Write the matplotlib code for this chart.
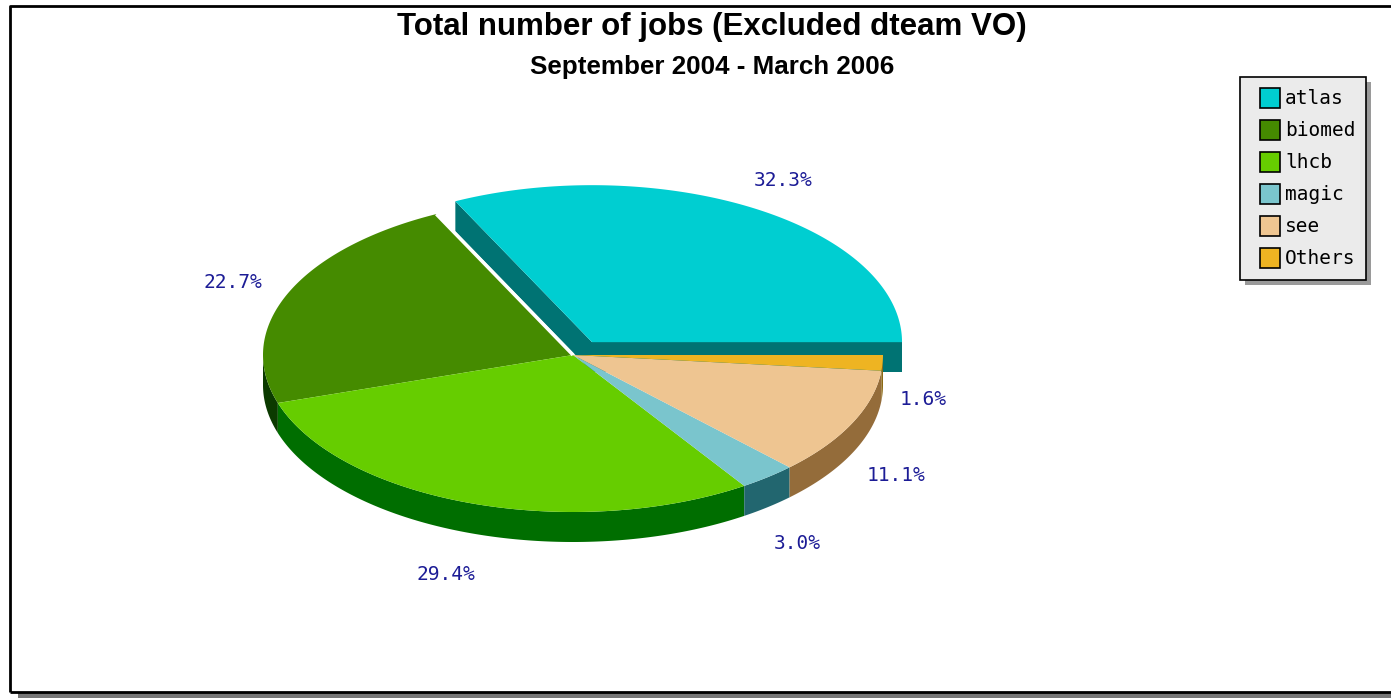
import numpy as np
import matplotlib
matplotlib.use("Agg")
import matplotlib.pyplot as plt
from matplotlib.patches import Polygon, Rectangle

# ---------------- data ----------------
categories = ["atlas", "biomed", "lhcb", "magic", "see", "Others"]
percentages = [32.3, 22.7, 29.4, 3.0, 11.1, 1.6]
top_colors = ["#00CED1", "#458B00", "#66CD00", "#7AC5CD", "#EEC591", "#EEB422"]
side_colors = ["#007373", "#0B3A00", "#006E00", "#22666F", "#946C3A", "#8B6914"]
exploded = [True, False, False, False, False, False]
title = "Total number of jobs (Excluded dteam VO)"
subtitle = "September 2004 - March 2006"

# ---------------- layout ----------------
W, H = 1391, 699
fig = plt.figure(figsize=(W / 100, H / 100), dpi=100)
ax = fig.add_axes([0, 0, 1, 1])
ax.set_xlim(0, W)
ax.set_ylim(H, 0)
ax.axis("off")

cx, cy = 573, 355          # pie centre (pixels)
rx, ry = 310, 157          # ellipse radii
depth = 30                 # 3D thickness
explode_px, explode_tilt = 36, 0.42
label_rx, label_ry = 332, 185
label_xshift, label_yshift = -5, 5
label_color = "#1C1C96"
mono = "DejaVu Sans Mono"

# frame with shadow
ax.add_patch(Rectangle((18, 692), W, 6, facecolor="#777777", edgecolor="none", zorder=0))
ax.plot([10, 10, W + 5], [692, 6, 6], color="black", lw=2, zorder=1, solid_capstyle="butt")
ax.plot([10, W + 5], [692, 692], color="black", lw=2, zorder=1, solid_capstyle="butt")

vals = np.array(percentages, dtype=float)
fracs = vals / vals.sum()
starts = np.concatenate([[0], np.cumsum(fracs)[:-1]]) * 360.0
ends = np.cumsum(fracs) * 360.0


def pt(x0, y0, a_deg, yoff=0.0):
    a = np.radians(a_deg)
    return x0 + rx * np.cos(a), y0 - ry * np.sin(a) + yoff


def arc(x0, y0, a0, a1, yoff=0.0, n=None):
    if n is None:
        n = max(4, int(abs(a1 - a0) * 2))
    t = np.radians(np.linspace(a0, a1, n))
    return np.column_stack([x0 + rx * np.cos(t), y0 - ry * np.sin(t) + yoff])


def slice_centre(i):
    if exploded[i]:
        mid = np.radians((starts[i] + ends[i]) / 2)
        return cx + explode_px * np.cos(mid), cy - explode_px * explode_tilt * np.sin(mid)
    return cx, cy


z = 2
# --- exploded slices first (they sit behind) ---
for i in range(len(vals)):
    if not exploded[i]:
        continue
    x0, y0 = slice_centre(i)
    for a in (starts[i], ends[i]):
        ex, ey = pt(x0, y0, a)
        face = [(x0, y0), (ex, ey), (ex, ey + depth), (x0, y0 + depth)]
        ax.add_patch(Polygon(face, closed=True, facecolor=side_colors[i], edgecolor="none", zorder=z))
    lo, hi = max(starts[i], 180), min(ends[i], 360)
    if hi > lo:
        top = arc(x0, y0, lo, hi)
        bot = arc(x0, y0, hi, lo, depth)
        ax.add_patch(Polygon(np.vstack([top, bot]), closed=True, facecolor=side_colors[i], edgecolor="none", zorder=z))
    poly = np.vstack([[x0, y0], arc(x0, y0, starts[i], ends[i])])
    ax.add_patch(Polygon(poly, closed=True, facecolor=top_colors[i], edgecolor="none", zorder=z + 1))

z = 5
# --- sides of the remaining pie ---
for i in range(len(vals)):
    if exploded[i]:
        continue
    lo, hi = max(starts[i], 180), min(ends[i], 360)
    if hi > lo:
        top = arc(cx, cy, lo, hi)
        bot = arc(cx, cy, hi, lo, depth)
        ax.add_patch(Polygon(np.vstack([top, bot]), closed=True, facecolor=side_colors[i], edgecolor="none", zorder=z))
# --- tops of the remaining pie ---
for i in range(len(vals)):
    if exploded[i]:
        continue
    poly = np.vstack([[cx, cy], arc(cx, cy, starts[i], ends[i])])
    ax.add_patch(Polygon(poly, closed=True, facecolor=top_colors[i], edgecolor="none", zorder=z + 1))
# white gap line next to the exploded slice
for i in range(len(vals)):
    if exploded[i]:
        for a in (starts[i], ends[i]):
            if 90 < a < 180:
                ex, ey = pt(cx, cy, a)
                ax.plot([cx, ex], [cy, ey], color="white", lw=2.5, zorder=z + 2, solid_capstyle="butt")

# --- percentage labels (JpGraph style fractional alignment) ---
fig.canvas.draw()
renderer = fig.canvas.get_renderer()
for i in range(len(vals)):
    mid = (starts[i] + ends[i]) / 2
    a = np.radians(mid)
    x0, y0 = slice_centre(i)
    xp = x0 + label_rx * np.cos(a) + label_xshift
    yp = y0 - label_ry * np.sin(a) + label_yshift
    if np.sin(a) < 0:
        yp += depth
    txt = ax.text(xp, yp, f"{percentages[i]:.1f}%", family=mono, fontsize=14,
                  color=label_color, ha="left", va="top", zorder=10)
    bb = txt.get_window_extent(renderer)
    w, h = bb.width, bb.height
    q = np.pi / 4
    if a >= 7 * q or a <= q:
        dx = 0.0
    elif a <= 3 * q:
        dx = (a - q) * 2 / np.pi
    elif a <= 5 * q:
        dx = 1.0
    else:
        dx = 1 - (a - 5 * q) * 2 / np.pi
    if a >= 7 * q:
        dy = (a - 7 * q) * 2 / np.pi
    elif a <= q:
        dy = 1 - a * 2 / np.pi
    elif a <= 3 * q:
        dy = 1.0
    elif a <= 5 * q:
        dy = 1 - (a - 3 * q) * 2 / np.pi
    else:
        dy = 0.0
    txt.set_position((xp - dx * w, yp - dy * h))

# --- titles ---
ax.text(712, 27, title, family="Liberation Sans", weight="bold", fontsize=22.5,
        ha="center", va="center", color="black")
ax.text(712, 67, subtitle, family="Liberation Sans", weight="bold", fontsize=18.7,
        ha="center", va="center", color="black")

# --- legend ---
lx0, ly0, lx1, ly1 = 1240, 77, 1366, 280
ax.add_patch(Rectangle((lx0 + 5, ly0 + 5), lx1 - lx0, ly1 - ly0, facecolor="#9A9A9A", edgecolor="none", zorder=8))
ax.add_patch(Rectangle((lx0, ly0), lx1 - lx0, ly1 - ly0, facecolor="#EBEBEB", edgecolor="black", lw=1.2, zorder=9))
row0, step = 98, 32
for k, name in enumerate(categories):
    yy = row0 + k * step
    ax.add_patch(Rectangle((1260, yy - 10), 20, 20, facecolor=top_colors[k], edgecolor="black", lw=1.2, zorder=10))
    ax.text(1285, yy + 1, name, family=mono, fontsize=14, color="black", ha="left", va="center", zorder=10)

fig.savefig("out.png", dpi=100)
